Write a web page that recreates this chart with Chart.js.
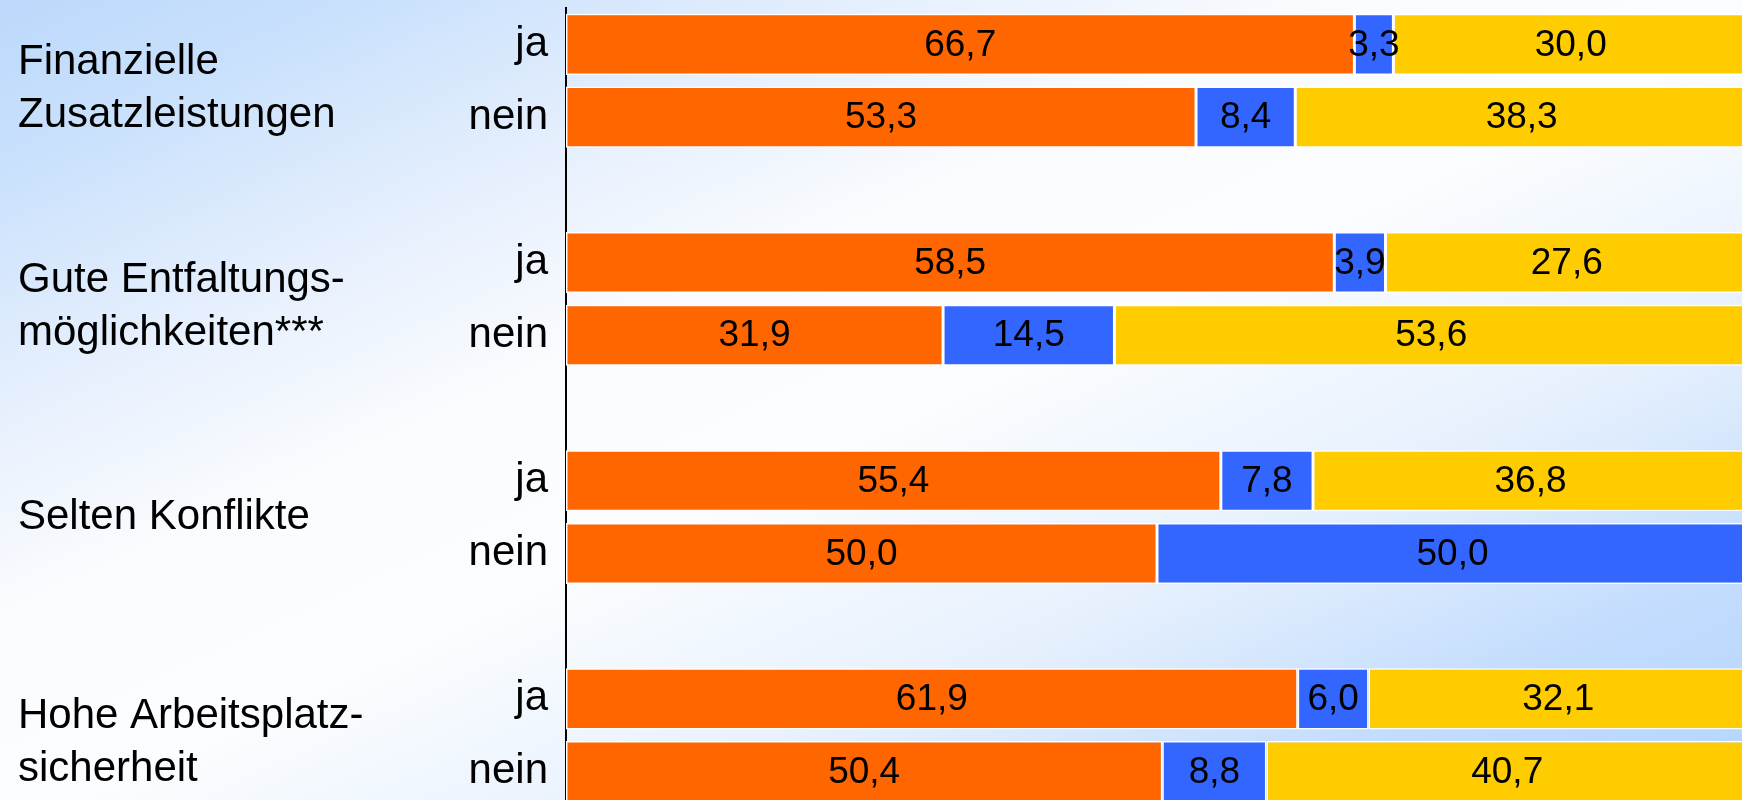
<!DOCTYPE html>
<html lang="de">
<head>
<meta charset="utf-8">
<title>Zufriedenheit nach Merkmalen</title>
<script src="https://cdn.jsdelivr.net/npm/chart.js@4/dist/chart.umd.min.js"></script>
<style>
  html, body {
    margin: 0;
    padding: 0;
    width: 1742px;
    height: 800px;
    overflow: hidden;
  }
  body {
    background: linear-gradient(to bottom right,
      #bcd9fb 0%, #c8e0fc 10%, #e5effd 25%, #f9fbfe 38%, #fbfdff 52%,
      #e6f0fd 70%, #c2dcfd 86%, #b4d5fe 100%);
  }
  #mycanvas {
    position: absolute;
    left: 0;
    top: 0;
  }
</style>
</head>
<body>
<canvas id="mycanvas" width="1748" height="808"></canvas>
<script>
// Merkmale (linke Spalte) und Antworten je Merkmal
var groups = [
  ["Finanzielle", "Zusatzleistungen"],
  ["Gute Entfaltungs-", "möglichkeiten***"],
  ["Selten Konflikte"],
  ["Hohe Arbeitsplatz-", "sicherheit"]
];
var answers = ["ja", "nein"];

// Anteile in Prozent, je Zeile: ja / nein pro Merkmal
var orangeShare = [66.7, 53.3, 58.5, 31.9, 55.4, 50.0, 61.9, 50.4];
var blueShare   = [3.3, 8.4, 3.9, 14.5, 7.8, 50.0, 6.0, 8.8];
var yellowShare = [30.0, 38.3, 27.6, 53.6, 36.8, 0, 32.1, 40.7];

var labelFont = "Liberation Sans, Arial, sans-serif";

// 100%-Darstellung: jede Zeile wird auf ihre Summe bezogen
var rowTotals = orangeShare.map(function(v, i) {
  return v + blueShare[i] + yellowShare[i];
});

// Zeilen aufbauen: nach jedem Merkmal eine leere Zeile als Abstand
var rowLabels = [];
var groupRows = [];
function withGaps(values) {
  var out = [];
  for (var g = 0; g < groups.length; g++) {
    for (var a = 0; a < answers.length; a++) {
      out.push(values[g * answers.length + a]);
    }
    if (g < groups.length - 1) out.push(null);
  }
  return out;
}
function asPercent(values) {
  return values.map(function(v, i) { return v / rowTotals[i] * 100; });
}
for (var g = 0; g < groups.length; g++) {
  groupRows.push(rowLabels.length);
  for (var a = 0; a < answers.length; a++) rowLabels.push(answers[a]);
  if (g < groups.length - 1) rowLabels.push("");
}

function fmt(v) {
  return v.toFixed(1).replace(".", ",");
}

// Zahlen mittig in die Balkenabschnitte schreiben (Originalwerte)
var valueLabels = {
  id: "valueLabels",
  afterDatasetsDraw: function(chart) {
    var ctx = chart.ctx;
    ctx.save();
    ctx.font = "37px " + labelFont;
    ctx.fillStyle = "#000";
    ctx.textAlign = "center";
    ctx.textBaseline = "middle";
    chart.data.datasets.forEach(function(ds, i) {
      var meta = chart.getDatasetMeta(i);
      meta.data.forEach(function(bar, j) {
        var v = ds.raw[j];
        if (v === null || v === 0) return;
        ctx.fillText(fmt(v), (bar.x + bar.base) / 2, bar.y + 1);
      });
    });
    ctx.restore();
  }
};

// Merkmalsnamen links neben den ja/nein-Zeilen
var groupLabels = {
  id: "groupLabels",
  afterDraw: function(chart) {
    var ctx = chart.ctx;
    var y = chart.scales.y;
    ctx.save();
    ctx.font = "42px " + labelFont;
    ctx.fillStyle = "#000";
    ctx.textAlign = "left";
    ctx.textBaseline = "alphabetic";
    groups.forEach(function(lines, g) {
      var r = groupRows[g];
      var mid = (y.getPixelForValue(r) + y.getPixelForValue(r + answers.length - 1)) / 2;
      var base = mid + 12 - (lines.length - 1) * 19;
      lines.forEach(function(line, k) {
        ctx.fillText(line, 18, base + k * 53);
      });
    });
    ctx.restore();
  }
};

var chartdata = {
  labels: rowLabels,
  datasets: [
    { label: "A", raw: withGaps(orangeShare), data: withGaps(asPercent(orangeShare)), backgroundColor: "#ff6600" },
    { label: "B", raw: withGaps(blueShare), data: withGaps(asPercent(blueShare)), backgroundColor: "#3366ff" },
    { label: "C", raw: withGaps(yellowShare), data: withGaps(asPercent(yellowShare)), backgroundColor: "#ffcc00" }
  ]
};
chartdata.datasets.forEach(function(ds) {
  ds.borderColor = "#ffffff";
  ds.borderWidth = 1.5;
  ds.borderSkipped = false;
  ds.barPercentage = 0.84;
  ds.categoryPercentage = 1;
});

var ctx = document.getElementById("mycanvas");

var BarGraph = new Chart(ctx, {
  type: "bar",
  data: chartdata,
  plugins: [valueLabels, groupLabels],
  options: {
    indexAxis: "y",
    responsive: false,
    animation: false,
    devicePixelRatio: 1,
    layout: { padding: { top: 8, right: 0, bottom: 0, left: 0 } },
    plugins: {
      legend: { display: false },
      tooltip: { enabled: false }
    },
    scales: {
      x: {
        stacked: true,
        display: false,
        min: 0,
        max: 100
      },
      y: {
        stacked: true,
        afterFit: function(scale) {
          scale.width = 566;
          scale.paddingTop = 0;
          scale.paddingBottom = 0;
        },
        grid: { display: true, color: "transparent", drawTicks: false },
        border: { display: true, color: "#000", width: 2 },
        ticks: {
          color: "#000",
          padding: 18,
          font: { family: labelFont, size: 42 }
        }
      }
    }
  }
});
</script>
</body>
</html>
